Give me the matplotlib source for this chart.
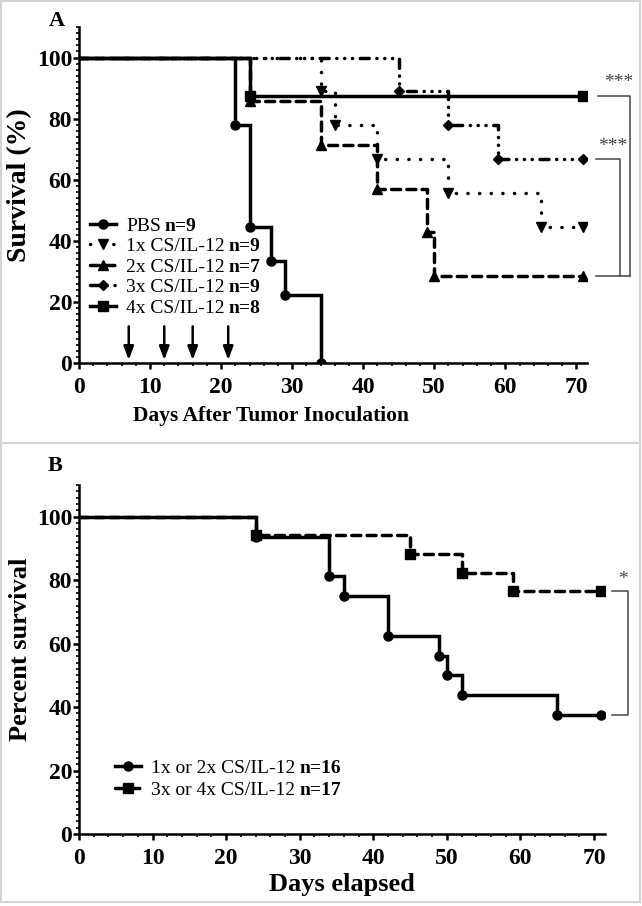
import matplotlib
matplotlib.use('Agg')
import matplotlib.pyplot as plt
from matplotlib.ticker import MultipleLocator
from matplotlib.lines import Line2D
from matplotlib.transforms import IdentityTransform

plt.rcParams['font.family'] = ['Liberation Serif', 'DejaVu Serif']
plt.rcParams['font.weight'] = 'bold'
plt.rcParams['axes.labelweight'] = 'bold'

# ---- panel A data (Kaplan-Meier steps, last point = end of study) ----
pbs_days = [0, 22, 24, 27, 29, 34]
pbs_surv = [100, 77.8, 44.4, 33.3, 22.2, 0]
x1_days = [0, 34, 36, 42, 52, 65, 71]
x1_surv = [100, 88.9, 77.8, 66.7, 55.6, 44.4, 44.4]
x2_days = [0, 24, 34, 42, 49, 50, 71]
x2_surv = [100, 85.7, 71.4, 57.1, 42.9, 28.6, 28.6]
x3_days = [0, 45, 52, 59, 71]
x3_surv = [100, 88.9, 77.8, 66.7, 66.7]
x4_days = [0, 24, 71]
x4_surv = [100, 87.5, 87.5]
dose_days = [7, 12, 16, 21]

groups_a = ['PBS', '1x CS/IL-12', '2x CS/IL-12', '3x CS/IL-12', '4x CS/IL-12']
n_a = [9, 9, 7, 9, 8]

# ---- panel B data ----
low_days = [0, 24, 34, 36, 42, 49, 50, 52, 65, 71]
low_surv = [100, 93.75, 81.25, 75, 62.5, 56.25, 50, 43.75, 37.5, 37.5]
high_days = [0, 24, 45, 52, 59, 71]
high_surv = [100, 94.1, 88.2, 82.4, 76.5, 76.5]
groups_b = ['1x or 2x CS/IL-12', '3x or 4x CS/IL-12']
n_b = [16, 17]

LW = 2.5
styles_a = [
    dict(ls='-', marker='o', ms=6.5),
    dict(ls=(0, (0.05, 3.3)), marker='v', ms=7),
    dict(ls=(0, (2.6, 1.8)), marker='^', ms=7),
    dict(ls=(0, (2.6, 2.2, 0.05, 2.2, 0.05, 2.2, 0.05, 2.2)), marker='D', ms=5.5),
    dict(ls='-', marker='s', ms=7),
]
styles_b = [
    dict(ls='-', marker='o', ms=6.5),
    dict(ls=(0, (2.6, 1.8)), marker='s', ms=6.5),
]
GREY = '#444444'


def km(ax, days, surv, st):
    ax.step(days, surv, where='post', color='black', lw=LW, ls=st['ls'],
            solid_joinstyle='miter', dash_capstyle='round', zorder=3)
    ax.plot(days[1:], surv[1:], ls='none', marker=st['marker'], ms=st['ms'],
            color='black', zorder=4)


def style_axes(ax):
    ax.set_xlim(0, 71.5)
    ax.set_ylim(0, 110)
    ax.spines['top'].set_visible(False)
    ax.spines['right'].set_visible(False)
    for s in ('left', 'bottom'):
        ax.spines[s].set_linewidth(1.8)
    ax.xaxis.set_major_locator(MultipleLocator(10))
    ax.xaxis.set_minor_locator(MultipleLocator(2))
    ax.set_yticks([0, 20, 40, 60, 80, 100])
    ax.yaxis.set_minor_locator(MultipleLocator(2))
    ax.tick_params(which='major', direction='out', length=4, width=1.8,
                   labelsize=17)
    ax.tick_params(axis='y', pad=1)
    ax.tick_params(axis='x', pad=6)
    ax.tick_params(which='minor', direction='out', length=2, width=1.2)


def add_legend(ax, styles, groups, **kw):
    handles = [Line2D([], [], color='black', lw=LW, ls=st['ls'], marker=st['marker'],
                      ms=st['ms'], dash_capstyle='round') for st in styles]
    return ax.legend(handles, groups, frameon=False,
                     prop={'size': 14, 'weight': 'normal'},
                     handlelength=1.35, handletextpad=0.5, **kw)


def add_bold_n(fig, leg, ns):
    # bold "n=.." appended after each (regular) legend label
    for txt, n in zip(leg.get_texts(), ns):
        bb = txt.get_window_extent()
        fig.text(bb.x1 + 4, bb.y0, 'n=%d' % n, transform=IdentityTransform(),
                 va='bottom', ha='left', fontsize=14, fontweight='bold')


fig = plt.figure(figsize=(6.42, 9.06), dpi=100)

# grey frames around the two panels
for (y0, y1) in [(1, 443), (443, 902)]:
    fig.add_artist(plt.Rectangle((1 / 642, 1 - y1 / 906), 639 / 642, (y1 - y0) / 906,
                                 transform=fig.transFigure, fill=False,
                                 edgecolor='#d3d3d3', lw=1.5))

# ---------------- panel A ----------------
axA = fig.add_axes([79 / 642, 1 - 363 / 906, 508 / 642, 336 / 906])
for d, s, st in zip([pbs_days, x1_days, x2_days, x3_days, x4_days],
                    [pbs_surv, x1_surv, x2_surv, x3_surv, x4_surv], styles_a):
    km(axA, d, s, st)
style_axes(axA)
axA.set_xlabel('Days After Tumor Inoculation', fontsize=15.5)
axA.xaxis.set_label_coords(0.378, -0.128)
axA.set_ylabel('Survival (%)', fontsize=20)
axA.yaxis.set_label_coords(-0.093, 0.53)

for d in dose_days:
    axA.annotate('', xy=(d, 1.0), xytext=(d, 12),
                 arrowprops=dict(arrowstyle='-|>,head_width=0.3,head_length=0.8',
                                 color='black', lw=1.8, shrinkA=0, shrinkB=0))

legA = add_legend(axA, styles_a, groups_a, loc='upper left',
                  bbox_to_anchor=(-0.005, 0.475), labelspacing=0.15, borderaxespad=0.3)

# significance brackets
axA.plot([73.0, 77.6, 77.6], [87.5, 87.5, 28.6], color=GREY, lw=1.1, clip_on=False)
axA.plot([72.7, 76.1, 76.1], [66.7, 66.7, 28.6], color=GREY, lw=1.1, clip_on=False)
axA.plot([72.7, 77.6], [28.6, 28.6], color=GREY, lw=1.1, clip_on=False)
axA.text(75.9, 89.0, '***', fontsize=14, fontweight='normal', ha='center',
         va='bottom', color=GREY)
axA.text(75.1, 68.2, '***', fontsize=14, fontweight='normal', ha='center',
         va='bottom', color=GREY)

fig.text(49 / 642, 1 - 21 / 906, 'A', fontsize=16, ha='left', va='center')

# ---------------- panel B ----------------
axB = fig.add_axes([79 / 642, 1 - 834 / 906, 526 / 642, 349 / 906])
km(axB, low_days, low_surv, styles_b[0])
km(axB, high_days, high_surv, styles_b[1])
style_axes(axB)
axB.set_xlabel('Days elapsed', fontsize=19, labelpad=3)
axB.set_ylabel('Percent survival', fontsize=19)
axB.yaxis.set_label_coords(-0.089, 0.53)

legB = add_legend(axB, styles_b, groups_b, loc='upper left',
                  bbox_to_anchor=(0.035, 0.265), labelspacing=0.25)

axB.plot([72.4, 74.6, 74.6, 72.4], [76.5, 76.5, 37.5, 37.5], color=GREY, lw=1.1,
         clip_on=False)
axB.text(73.9, 77.5, '*', fontsize=14, fontweight='normal', ha='center',
         va='bottom', color=GREY)

fig.text(48 / 642, 1 - 466 / 906, 'B', fontsize=16, ha='left', va='center')

fig.canvas.draw()
add_bold_n(fig, legA, n_a)
add_bold_n(fig, legB, n_b)

fig.savefig('out.png', dpi=100)
